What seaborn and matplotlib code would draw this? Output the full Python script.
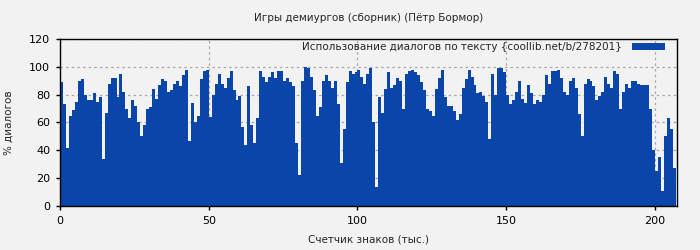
import numpy as np
import pandas as pd
import matplotlib
matplotlib.use("Agg")
import matplotlib.pyplot as plt
from matplotlib.patches import Patch
import seaborn as sns

title = "Игры демиургов (сборник) (Пётр Бормор)"
series_label = "Использование диалогов по тексту {coollib.net/b/278201}"
x_label = "Счетчик знаков (тыс.)"
y_label = "% диалогов"
x_ticks = [0, 50, 100, 150, 200]
y_ticks = [0, 20, 40, 60, 80, 100, 120]

# dialog share (%) per 1000 characters, starting at 0
values_a = [89, 73, 42, 65, 69, 75, 90, 91, 80, 76, 76, 81, 75, 78, 34, 67, 88, 92, 92, 78,
            95, 82, 70, 63, 76, 72, 60, 50, 58, 70, 71, 84, 77, 87, 91]
values_b = [90, 82, 83, 88, 90, 86, 94, 98, 47, 74, 60, 65, 91, 97, 98, 64, 80, 88, 95, 88,
            85, 92, 97, 83, 76, 79, 57, 44, 86, 58, 45, 63, 97, 93, 89]
values_c = [93, 96, 92, 97, 97, 90, 92, 89, 86, 45, 22, 90, 100, 99, 93, 83, 65, 71, 90, 94,
            90, 85, 90, 73, 31, 55, 89, 97, 95, 96, 98, 93, 88, 95, 99, 60]
values_d = [14, 78, 67, 84, 96, 85, 87, 92, 90, 70, 95, 97, 98, 96, 94, 89, 83, 70, 68, 65,
            84, 92, 98, 78, 72, 72, 68, 62, 66, 85, 91, 98, 93, 87, 81]
values_e = [82, 79, 75, 48, 95, 80, 99, 99, 96, 80, 73, 76, 82, 90, 77, 74, 87, 81, 73, 76,
            75, 80, 94, 88, 97, 97, 98, 92, 82, 80, 90, 92, 85, 66, 50]
values_f = [88, 91, 90, 86, 76, 79, 82, 93, 88, 85, 97, 95, 70, 82, 88, 85, 90, 90, 88, 87,
            87, 87, 70, 40, 25, 35, 11, 50, 63, 55, 27]

values = values_a + values_b + values_c + values_d + values_e + values_f
positions = np.arange(len(values)) + 0.5
df = pd.DataFrame({"pos": positions, "pct": values})

bg = "#f2f2f2"
blue = "#0a46aa"

sns.set_theme(style="white")
plt.rcParams["font.family"] = ["DejaVu Sans"]

fig = plt.figure(figsize=(7, 2.5), dpi=100, facecolor=bg)
ax = fig.add_axes([0.0857, 0.176, 0.881, 0.668])
ax.set_facecolor(bg)

sns.histplot(data=df, x="pos", weights="pct", binwidth=1, binrange=(0, len(values)),
             element="step", fill=True, color=blue, alpha=1, linewidth=0, ax=ax)

ax.set_xlim(0, 207.3)
ax.set_ylim(0, 120)
ax.set_xticks(x_ticks)
ax.set_yticks(y_ticks)
ax.set_axisbelow(True)
ax.grid(True, color="#a8a8a8", linestyle=(0, (2, 2.5)), linewidth=0.9)
for s in ax.spines.values():
    s.set_color("black")
    s.set_linewidth(1.0)
ax.tick_params(axis="both", which="major", direction="out", length=3, width=1,
               labelsize=8, colors="black", bottom=True, left=True, pad=4)

ax.set_xlabel(x_label, fontsize=7.5, labelpad=6)
ax.set_ylabel(y_label, fontsize=7.5, labelpad=11)
fig.text(0.527, 0.928, title, ha="center", va="center", fontsize=7.5)

handle = Patch(facecolor=blue, edgecolor="none")
leg = ax.legend([handle], [series_label], loc="upper right", frameon=False,
                markerfirst=False, fontsize=7.5, handlelength=3.1, handleheight=0.65,
                borderaxespad=0, borderpad=0.4, handletextpad=1.0,
                bbox_to_anchor=(0.987, 1.006))

fig.savefig("out.png", dpi=100, facecolor=bg)
